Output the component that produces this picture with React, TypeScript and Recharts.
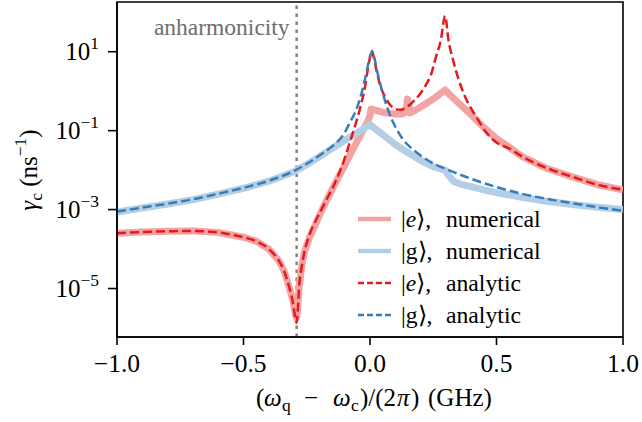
import React from 'react';
import { LineChart, Line, XAxis, YAxis, ReferenceLine, ReferenceArea, Legend } from 'recharts';

const FONT = "'Liberation Serif', 'Tinos', 'Times New Roman', serif";

// axis ticks
const xTicks = [-1, -0.5, 0, 0.5, 1];
const yTicks = [1e-5, 1e-3, 1e-1, 1e1];
const yDomain = [5.9e-7, 182];
const anharmonicity = -0.29;

// values are log10(gamma_c)
const eNumX = [-1, -0.9, -0.8, -0.7, -0.6, -0.5, -0.45, -0.4, -0.36, -0.34, -0.32, -0.305, -0.295, -0.29, -0.285, -0.28, -0.27, -0.26, -0.24, -0.22, -0.2, -0.185, -0.16, -0.13, -0.1, -0.07, -0.04, -0.01, 0, 0.004, 0.02, 0.06, 0.1, 0.13, 0.142, 0.148, 0.153, 0.158, 0.18, 0.2, 0.25, 0.297, 0.32, 0.35, 0.4, 0.45, 0.5, 0.55, 0.6, 0.7, 0.8, 0.9, 1];
const eNumLog = [-3.6, -3.57, -3.55, -3.54, -3.58, -3.7, -3.8, -4.0, -4.3, -4.55, -4.95, -5.3, -5.65, -5.75, -5.45, -4.95, -4.45, -4.1, -3.72, -3.45, -3.15, -2.95, -2.62, -2.25, -1.88, -1.5, -1.14, -0.78, -0.62, -0.45, -0.48, -0.55, -0.58, -0.57, -0.53, -0.2, -0.3, -0.55, -0.48, -0.4, -0.2, 0.03, -0.12, -0.3, -0.6, -0.92, -1.2, -1.42, -1.65, -1.96, -2.17, -2.37, -2.5];

const gNumX = [-1, -0.9, -0.8, -0.7, -0.6, -0.5, -0.4, -0.3, -0.25, -0.2, -0.15, -0.1, -0.05, 0, 0.05, 0.1, 0.15, 0.2, 0.25, 0.3, 0.31, 0.33, 0.36, 0.4, 0.45, 0.5, 0.6, 0.7, 0.8, 0.9, 1];
const gNumLog = [-3.06, -2.96, -2.86, -2.75, -2.61, -2.46, -2.28, -2.04, -1.86, -1.66, -1.45, -1.25, -1.05, -0.85, -1.1, -1.35, -1.56, -1.75, -1.91, -2.01, -2.13, -2.28, -2.36, -2.42, -2.5, -2.57, -2.69, -2.79, -2.87, -2.94, -3.0];

const eAnaX = [-1, -0.9, -0.8, -0.7, -0.6, -0.5, -0.45, -0.4, -0.36, -0.34, -0.32, -0.305, -0.295, -0.29, -0.285, -0.28, -0.27, -0.26, -0.24, -0.22, -0.2, -0.18, -0.16, -0.14, -0.12, -0.1, -0.08, -0.06, -0.04, -0.02, -0.01, 0, 0.008, 0.015, 0.025, 0.04, 0.06, 0.08, 0.1, 0.12, 0.14, 0.16, 0.18, 0.2, 0.22, 0.24, 0.26, 0.28, 0.297, 0.31, 0.33, 0.35, 0.38, 0.42, 0.46, 0.5, 0.55, 0.6, 0.7, 0.8, 0.9, 1];
const eAnaLog = [-3.6, -3.57, -3.55, -3.54, -3.58, -3.7, -3.8, -4.0, -4.3, -4.55, -4.95, -5.35, -5.75, -5.87, -5.5, -4.95, -4.45, -4.1, -3.65, -3.35, -3.1, -2.85, -2.6, -2.35, -2.05, -1.7, -1.3, -0.9, -0.45, 0.1, 0.5, 0.85, 1.02, 0.85, 0.55, 0.15, -0.15, -0.35, -0.45, -0.47, -0.42, -0.33, -0.2, -0.05, 0.15, 0.4, 0.85, 1.3, 1.91, 1.3, 0.75, 0.3, -0.2, -0.65, -1.05, -1.3, -1.45, -1.65, -1.95, -2.17, -2.37, -2.5];

const gAnaX = [-1, -0.9, -0.8, -0.7, -0.6, -0.5, -0.4, -0.3, -0.25, -0.2, -0.15, -0.1, -0.08, -0.06, -0.04, -0.02, -0.01, 0, 0.008, 0.016, 0.025, 0.04, 0.055, 0.07, 0.085, 0.1, 0.13, 0.17, 0.2, 0.25, 0.3, 0.35, 0.4, 0.5, 0.6, 0.7, 0.8, 0.9, 1];
const gAnaLog = [-3.05, -2.95, -2.85, -2.74, -2.6, -2.45, -2.27, -2.02, -1.84, -1.63, -1.4, -1.05, -0.8, -0.55, -0.2, 0.3, 0.6, 0.88, 1.0, 0.88, 0.6, 0.2, -0.15, -0.45, -0.7, -0.9, -1.22, -1.48, -1.63, -1.83, -1.97, -2.1, -2.22, -2.43, -2.6, -2.73, -2.84, -2.94, -3.03];

const toPoints = (xs: number[], logs: number[]) => xs.map((x, i) => ({ x, y: Math.pow(10, logs[i]) }));

const series = [
  { key: 'eNum', state: 'e', kind: 'numerical', data: toPoints(eNumX, eNumLog), color: '#f4a3a4', width: 7, dash: undefined, legendWidth: 4.5, curve: 'linear' },
  { key: 'gNum', state: 'g', kind: 'numerical', data: toPoints(gNumX, gNumLog), color: '#b4cee5', width: 7, dash: undefined, legendWidth: 4.5, curve: 'linear' },
  { key: 'eAna', state: 'e', kind: 'analytic', data: toPoints(eAnaX, eAnaLog), color: '#e41a1c', width: 2.5, dash: '9 4', legendWidth: 2.5, curve: 'monotoneX' },
  { key: 'gAna', state: 'g', kind: 'analytic', data: toPoints(gAnaX, gAnaLog), color: '#377eb8', width: 2.5, dash: '9 4', legendWidth: 2.5, curve: 'monotoneX' },
];

const XTick = ({ x, y, payload }: any) => {
  const v = payload.value;
  return (
    <text x={x} y={y} dy={25} textAnchor="middle" fontFamily={FONT} fontSize={25.5} fill="#000">
      {(v < 0 ? '\u2212' : '') + Math.abs(v).toFixed(1)}
    </text>
  );
};

const YTick = ({ x, y, payload }: any) => {
  const exp = Math.round(Math.log10(payload.value));
  return (
    <text x={x} y={y} dy={8.5} textAnchor="end" fontFamily={FONT} fontSize={25} fill="#000">
      <tspan>10</tspan>
      <tspan fontSize={17.5} dy={-11}>{exp < 0 ? '\u2212' + -exp : String(exp)}</tspan>
    </text>
  );
};

// x title pieces: text, offset from the left end, italic, subscript
const xTitleParts: [string, number, boolean, boolean][] = [
  ['(', 0, false, false],
  ['ω', 8, true, false],
  ['q', 26, false, true],
  ['\u2212', 48, false, false],
  ['ω', 77, true, false],
  ['c', 95, false, true],
  [')/(2', 104, false, false],
  ['π', 141, true, false],
  [')', 155, false, false],
  ['(GHz)', 172, false, false],
];

const XTitle = ({ viewBox }: any) => {
  const left = viewBox ? viewBox.x + viewBox.width / 2 - 114 : 256;
  const base = viewBox ? viewBox.y + 69 : 406;
  return (
    <text fontFamily={FONT} fontSize={25} fill="#000">
      {xTitleParts.map(([t, dx, it, sub], i) => (
        <tspan key={i} x={left + dx} y={sub ? base + 5 : base} fontStyle={it ? 'italic' : 'normal'} fontSize={sub ? 17.5 : 25}>
          {t}
        </tspan>
      ))}
    </text>
  );
};

const YTitle = () => (
  <text x={37} y={170} transform="rotate(-90 37 170)" textAnchor="middle" fontFamily={FONT} fontSize={25} fill="#000">
    <tspan fontStyle="italic">γ</tspan>
    <tspan fontSize={17.5} dy={5}>c</tspan>
    <tspan dy={-5}>{' (ns'}</tspan>
    <tspan fontSize={17.5} dy={-11}>{'\u22121'}</tspan>
    <tspan dy={11}>)</tspan>
  </text>
);

const AnharmLabel = ({ viewBox }: any) => {
  const x = viewBox ? viewBox.x - 7 : 290;
  return (
    <text x={x} y={35} textAnchor="end" fontFamily={FONT} fontSize={23.5} fill="#6e6e6e">
      anharmonicity
    </text>
  );
};

const LegendBox = () => (
  <div style={{ fontFamily: FONT, fontSize: 23.7, color: '#000' }}>
    {series.map((s) => (
      <div key={s.key} style={{ display: 'flex', alignItems: 'center', height: 32 }}>
        <svg width={36} height={10}>
          <line x1={1} y1={5} x2={34} y2={5} stroke={s.color} strokeWidth={s.legendWidth} strokeDasharray={s.dash ? '6 3' : undefined} />
        </svg>
        <span style={{ marginLeft: 8, whiteSpace: 'nowrap', lineHeight: '32px' }}>
          <span style={{ display: 'inline-block', width: 45 }}>
            |{s.state === 'e' ? <i>e</i> : 'g'}⟩,
          </span>
          {s.kind}
        </span>
      </div>
    ))}
  </div>
);

const App = () => {
  return (
    <div style={{ position: 'absolute', left: 0, top: 0, width: 642, height: 422, background: '#fff' }}>
      <LineChart width={642} height={422} margin={{ top: 2, right: 19, bottom: 0, left: 0 }}>
        <XAxis
          dataKey="x"
          type="number"
          domain={[-1, 1]}
          ticks={xTicks}
          allowDataOverflow
          height={85}
          tickSize={8}
          tickMargin={2}
          axisLine={{ stroke: '#000', strokeWidth: 1.6 }}
          tickLine={{ stroke: '#000', strokeWidth: 1.6 }}
          tick={<XTick />}
          label={<XTitle />}
        />
        <YAxis
          dataKey="y"
          type="number"
          scale="log"
          domain={yDomain}
          ticks={yTicks}
          allowDataOverflow
          width={117}
          tickSize={9}
          tickMargin={9}
          axisLine={{ stroke: '#000', strokeWidth: 1.6 }}
          tickLine={{ stroke: '#000', strokeWidth: 1.6 }}
          tick={<YTick />}
          label={<YTitle />}
        />
        <ReferenceArea x1={-1} x2={1} y1={yDomain[0]} y2={yDomain[1]} fill="none" stroke="#000" strokeWidth={1.6} />
        <ReferenceLine
          x={anharmonicity}
          stroke="#808080"
          strokeWidth={2.5}
          strokeDasharray="3.5 4.5"
          label={(props: any) => <AnharmLabel {...props} />}
        />
        {series.map((s) => (
          <Line
            key={s.key}
            data={s.data}
            dataKey="y"
            type={s.curve as any}
            stroke={s.color}
            strokeWidth={s.width}
            strokeDasharray={s.dash}
            strokeLinejoin="round"
            dot={false}
            activeDot={false}
            isAnimationActive={false}
          />
        ))}
        <Legend
          layout="vertical"
          align="center"
          verticalAlign="middle"
          content={<LegendBox />}
          wrapperStyle={{ left: 357, top: 203, width: 260, height: 130 }}
        />
      </LineChart>
    </div>
  );
};

export default App;
